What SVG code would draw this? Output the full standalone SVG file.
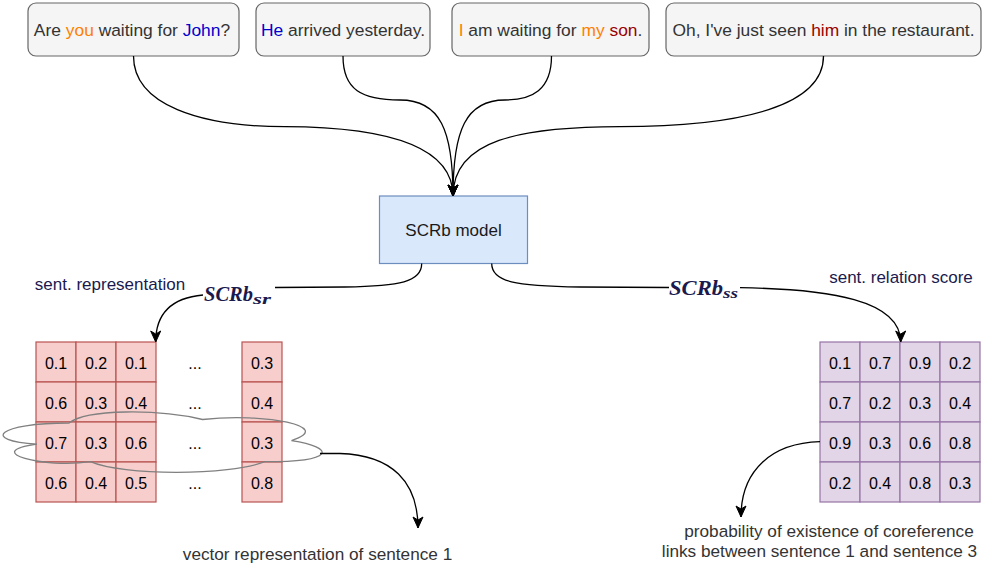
<svg xmlns="http://www.w3.org/2000/svg" width="984" height="568" viewBox="0 0 984 568">
  <style>
    .sent rect { fill: #f5f5f5; stroke: #666666; stroke-width: 1.2; }
    .sent text { font-family: "Liberation Sans", Arial, sans-serif; font-size: 17.4px; fill: #333333; text-anchor: middle; }
    .or { fill: #ff8000; }
    .bl { fill: #0000cc; }
    .rd { fill: #990000; }
    .edge { fill: none; stroke: #000000; stroke-width: 1.3; }
    .lbl { font-family: "Liberation Sans", Arial, sans-serif; font-size: 17px; fill: #1a1a4e; text-anchor: middle; }
    .note { font-family: "Liberation Sans", Arial, sans-serif; font-size: 17.2px; fill: #333333; text-anchor: middle; }
    .math { font-family: "Liberation Serif", "Times New Roman", serif; font-style: italic; font-weight: bold; fill: #1a1a4e; }
    .red rect { fill: #f8cecc; stroke: #b85450; stroke-width: 1.2; }
    .purple rect { fill: #e1d5e7; stroke: #9673a6; stroke-width: 1.2; }
    .cell { font-family: "Liberation Sans", Arial, sans-serif; font-size: 16px; fill: #000000; text-anchor: middle; }
  </style>
  <defs>
    <marker id="arrow" markerUnits="userSpaceOnUse" markerWidth="14" markerHeight="14" refX="11" refY="5" orient="auto" overflow="visible">
      <path d="M0,0 L11,5 L0,10 L3,5 Z" fill="#000000" stroke="#000000" stroke-width="1"/>
    </marker>
  </defs>

  <rect width="984" height="568" fill="#ffffff"/>

  <!-- input sentences -->
  <g id="sentence1" class="sent">
    <rect x="28" y="3" width="211" height="53" rx="8"/>
    <text x="132" y="36">Are <tspan class="or">you</tspan> waiting for <tspan class="bl">John</tspan>?</text>
  </g>
  <g id="sentence2" class="sent">
    <rect x="256" y="3" width="174" height="53" rx="8"/>
    <text x="343" y="36"><tspan class="bl">He</tspan> arrived yesterday.</text>
  </g>
  <g id="sentence3" class="sent">
    <rect x="452" y="3" width="197" height="53" rx="8"/>
    <text x="550.5" y="36"><tspan class="or">I</tspan> am waiting for <tspan class="or">my</tspan> <tspan class="rd">son</tspan>.</text>
  </g>
  <g id="sentence4" class="sent">
    <rect x="666" y="3" width="315" height="53" rx="8"/>
    <text x="823.5" y="36">Oh, I've just seen <tspan class="rd">him</tspan> in the restaurant.</text>
  </g>

  <!-- model -->
  <g id="model">
    <rect x="379.5" y="196" width="148" height="67.5" fill="#dae8fc" stroke="#6c8ebf" stroke-width="1.2"/>
    <text x="453.5" y="236" font-family="Liberation Sans, Arial, sans-serif" font-size="17" fill="#1a1a1a" text-anchor="middle">SCRb model</text>
  </g>

  <!-- output labels -->
  <g id="label-sr">
    <text class="lbl" x="110" y="290">sent. representation</text>
    <text class="math" x="204" y="300.7" font-size="21"><tspan textLength="49" lengthAdjust="spacingAndGlyphs">SCRb</tspan><tspan font-size="14" dy="3" textLength="18" lengthAdjust="spacingAndGlyphs">sr</tspan></text>
  </g>
  <g id="label-ss">
    <text class="lbl" x="901" y="283">sent. relation score</text>
    <text class="math" x="669" y="295" font-size="21"><tspan textLength="54" lengthAdjust="spacingAndGlyphs">SCRb</tspan><tspan font-size="14" dy="3" textLength="15" lengthAdjust="spacingAndGlyphs">ss</tspan></text>
  </g>

  <!-- sentence representation matrix -->
  <g id="repr-matrix" class="red">
    <rect x="36" y="342" width="40" height="40"/><rect x="76" y="342" width="40" height="40"/><rect x="116" y="342" width="40" height="40"/><rect x="242" y="342" width="40" height="40"/>
    <rect x="36" y="382" width="40" height="40"/><rect x="76" y="382" width="40" height="40"/><rect x="116" y="382" width="40" height="40"/><rect x="242" y="382" width="40" height="40"/>
    <rect x="36" y="422" width="40" height="40"/><rect x="76" y="422" width="40" height="40"/><rect x="116" y="422" width="40" height="40"/><rect x="242" y="422" width="40" height="40"/>
    <rect x="36" y="462" width="40" height="40"/><rect x="76" y="462" width="40" height="40"/><rect x="116" y="462" width="40" height="40"/><rect x="242" y="462" width="40" height="40"/>
    <text class="cell" x="56" y="369">0.1</text><text class="cell" x="96" y="369">0.2</text><text class="cell" x="136" y="369">0.1</text><text class="cell" x="195" y="369">...</text><text class="cell" x="262" y="369">0.3</text>
    <text class="cell" x="56" y="409">0.6</text><text class="cell" x="96" y="409">0.3</text><text class="cell" x="136" y="409">0.4</text><text class="cell" x="195" y="409">...</text><text class="cell" x="262" y="409">0.4</text>
    <text class="cell" x="56" y="449">0.7</text><text class="cell" x="96" y="449">0.3</text><text class="cell" x="136" y="449">0.6</text><text class="cell" x="195" y="449">...</text><text class="cell" x="262" y="449">0.3</text>
    <text class="cell" x="56" y="489">0.6</text><text class="cell" x="96" y="489">0.4</text><text class="cell" x="136" y="489">0.5</text><text class="cell" x="195" y="489">...</text><text class="cell" x="262" y="489">0.8</text>
  </g>

  <!-- cloud marking the row of sentence 1 -->
  <g id="row-cloud">
    <path d="M69,423 C-2.2,423 -20,440.6 37,444.1 C-20,451.9 44.1,468.8 90.4,461.7 C122.4,475.8 229.2,475.8 264.8,461.7 C336,461.7 336,447.6 291.5,440.6 C336,426.5 264.8,412.4 202.5,419.5 C158,408.9 86.8,408.9 69,423 Z" fill="none" stroke="#808080" stroke-width="1.3"/>
  </g>

  <!-- sentence relation score matrix -->
  <g id="score-matrix" class="purple">
    <rect x="820" y="342" width="40" height="40"/><rect x="860" y="342" width="40" height="40"/><rect x="900" y="342" width="40" height="40"/><rect x="940" y="342" width="40" height="40"/>
    <rect x="820" y="382" width="40" height="40"/><rect x="860" y="382" width="40" height="40"/><rect x="900" y="382" width="40" height="40"/><rect x="940" y="382" width="40" height="40"/>
    <rect x="820" y="422" width="40" height="40"/><rect x="860" y="422" width="40" height="40"/><rect x="900" y="422" width="40" height="40"/><rect x="940" y="422" width="40" height="40"/>
    <rect x="820" y="462" width="40" height="40"/><rect x="860" y="462" width="40" height="40"/><rect x="900" y="462" width="40" height="40"/><rect x="940" y="462" width="40" height="40"/>
    <text class="cell" x="840" y="369">0.1</text><text class="cell" x="880" y="369">0.7</text><text class="cell" x="920" y="369">0.9</text><text class="cell" x="960" y="369">0.2</text>
    <text class="cell" x="840" y="409">0.7</text><text class="cell" x="880" y="409">0.2</text><text class="cell" x="920" y="409">0.3</text><text class="cell" x="960" y="409">0.4</text>
    <text class="cell" x="840" y="449">0.9</text><text class="cell" x="880" y="449">0.3</text><text class="cell" x="920" y="449">0.6</text><text class="cell" x="960" y="449">0.8</text>
    <text class="cell" x="840" y="489">0.2</text><text class="cell" x="880" y="489">0.4</text><text class="cell" x="920" y="489">0.8</text><text class="cell" x="960" y="489">0.3</text>
  </g>

  <!-- explanatory notes -->
  <g id="note-vector">
    <text class="note" x="317.5" y="560">vector representation of sentence 1</text>
  </g>
  <g id="note-prob">
    <text class="note" x="829" y="537">probability of existence of coreference</text>
    <text class="note" x="819.5" y="557">links between sentence 1 and sentence 3</text>
  </g>

  <!-- connectors -->
  <g id="connectors">
    <path class="edge" d="M133.5,56 C133.5,105 200,126.5 285,126.7 C370,127 453,140 453,196" marker-end="url(#arrow)"/>
    <path class="edge" d="M343,56 C343,90 362,100 400,100 C440,100 453,130 453,196" marker-end="url(#arrow)"/>
    <path class="edge" d="M551.5,56 C551.5,90 532,100 505,100 C466,100 453,130 453,196" marker-end="url(#arrow)"/>
    <path class="edge" d="M823.5,56 C823.5,105 745,126.5 620,126.7 C520,127 453,140 453,196" marker-end="url(#arrow)"/>

    <path class="edge" d="M421.7,263.5 C421.7,282 400,286 345,287 L275,287.5"/>
    <path class="edge" d="M203,295 C170,298 155.7,315 155.7,342" marker-end="url(#arrow)"/>

    <path class="edge" d="M491.7,263.5 C491.7,282 515,286 580,287 L669,287.5"/>
    <path class="edge" d="M740,287.7 C830,289 900.7,300 900.7,342" marker-end="url(#arrow)"/>

    <path class="edge" d="M320,453.5 L340,453.5 C392,455 418,482 418,528" marker-end="url(#arrow)"/>
    <path class="edge" d="M820,441.7 C772,443 741,470 741,517" marker-end="url(#arrow)"/>
  </g>
</svg>
